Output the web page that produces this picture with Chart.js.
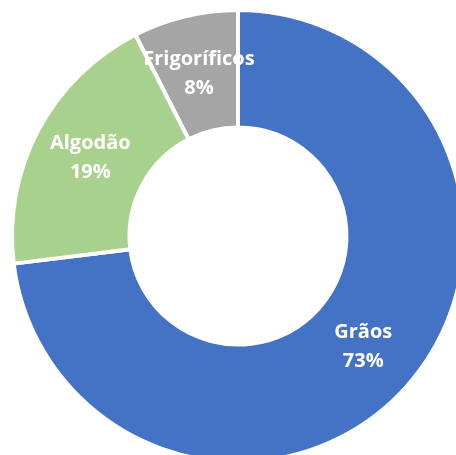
<!DOCTYPE html>
<html>
<head>
<meta charset="utf-8">
<script src="https://cdn.jsdelivr.net/npm/chart.js@4/dist/chart.umd.min.js"></script>
<style>
  html, body { margin: 0; padding: 0; background: #fff; overflow: hidden; }
  #wrap { width: 456px; height: 455px; overflow: hidden; position: relative; }
  canvas { position: absolute; left: 0; top: 0; }
</style>
</head>
<body>
<div id="wrap">
  <canvas id="donut" width="476" height="472"></canvas>
</div>
<script>
let categories = ['Grãos', 'Algodão', 'Frigoríficos'];
let shares = [73.05, 19.45, 7.5];
let sliceColors = ['#4472C4', '#A9D18E', '#A5A5A5'];

// labels inside each slice: name + rounded percent
let sliceLabels = {
  id: 'sliceLabels',
  afterDatasetsDraw(chart) {
    let ctx = chart.ctx;
    let meta = chart.getDatasetMeta(0);
    let total = shares.reduce((a, b) => a + b, 0);
    ctx.save();
    ctx.fillStyle = '#ffffff';
    ctx.font = 'bold 20px "Open Sans"';
    ctx.textAlign = 'center';
    ctx.textBaseline = 'middle';
    meta.data.forEach((arc, i) => {
      let pos = arc.tooltipPosition();
      let pct = Math.round(shares[i] / total * 100) + '%';
      ctx.fillText(categories[i], pos.x, pos.y - 14);
      ctx.fillText(pct, pos.x, pos.y + 15);
    });
    ctx.restore();
  }
};

let ctx = document.getElementById('donut').getContext('2d');

let donut = new Chart(ctx, {
  type: 'doughnut',
  data: {
    labels: categories,
    datasets: [{
      data: shares,
      backgroundColor: sliceColors,
      borderColor: '#ffffff',
      borderWidth: 4
    }]
  },
  options: {
    responsive: false,
    animation: false,
    cutout: '48%',
    layout: { padding: { left: 10, right: 10, top: 8, bottom: 8 } },
    plugins: {
      legend: { display: false },
      tooltip: { enabled: false }
    }
  },
  plugins: [sliceLabels]
});
</script>
</body>
</html>
